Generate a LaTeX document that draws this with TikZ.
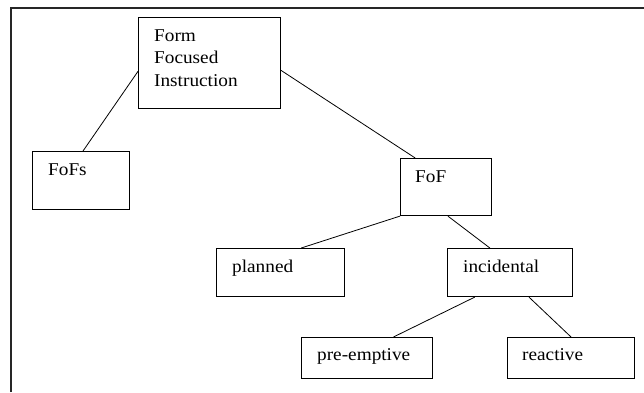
\documentclass[tikz,border=0pt]{standalone}
\usepackage{fontspec}
\setmainfont{Liberation Serif}[FakeStretch=1.07]
\usetikzlibrary{calc}
\begin{document}
\begin{tikzpicture}[x=1pt,y=-1pt,
  box/.style={draw, line width=1.1pt, inner sep=0pt, anchor=north west},
  lbl/.style={inner sep=0pt, anchor=base west, font=\fontsize{18}{22}\selectfont},
  conn/.style={line width=0.8pt},
  frame/.style={line width=1.6pt, draw=black!85}]
\useasboundingbox (0,0) rectangle (644,392);
\draw[frame] (11,392) -- (11,8) -- (644,8);
% boxes
\node[box, minimum width=142pt, minimum height=91pt] (form) at (138,17) {};
\node[box, minimum width=97pt, minimum height=58pt] (fofs) at (32,151) {};
\node[box, minimum width=91pt, minimum height=57pt] (fof) at (400,158) {};
\node[box, minimum width=128pt, minimum height=48pt] (planned) at (216,248) {};
\node[box, minimum width=125pt, minimum height=48pt] (incid) at (447,248) {};
\node[box, minimum width=131pt, minimum height=41pt] (pre) at (301,337) {};
\node[box, minimum width=127pt, minimum height=41pt] (react) at (507,337) {};
% labels
\node[lbl] (formA) at ($(form.north west)+(16,24)$) {Form};
\node[lbl] (formB) at ($(form.north west)+(16,46.7)$) {Focused};
\node[lbl] (formC) at ($(form.north west)+(16,69.4)$) {Instruction};
\node[lbl] (fofsT) at ($(fofs.north west)+(16,24)$) {FoFs};
\node[lbl] (fofT) at ($(fof.north west)+(15,24)$) {FoF};
\node[lbl] (plannedT) at ($(planned.north west)+(16,24)$) {planned};
\node[lbl] (incidT) at ($(incid.north west)+(16,24)$) {incidental};
\node[lbl] (preT) at ($(pre.north west)+(16,23)$) {pre-emptive};
\node[lbl] (reactT) at ($(react.north west)+(15,23)$) {reactive};
% connectors
\draw[conn] ($(form.north west)!0.59!(form.south west)$) -- ($(fofs.north west)!0.52!(fofs.north east)$);
\draw[conn] ($(form.north east)!0.58!(form.south east)$) -- ($(fof.north west)!0.165!(fof.north east)$);
\draw[conn] (fof.south west) -- ($(planned.north west)!0.66!(planned.north east)$);
\draw[conn] ($(fof.south west)!0.52!(fof.south east)$) -- ($(incid.north west)!0.34!(incid.north east)$);
\draw[conn] ($(incid.south west)!0.22!(incid.south east)$) -- ($(pre.north west)!0.70!(pre.north east)$);
\draw[conn] ($(incid.south west)!0.65!(incid.south east)$) -- ($(react.north west)!0.50!(react.north east)$);
\end{tikzpicture}
\end{document}
